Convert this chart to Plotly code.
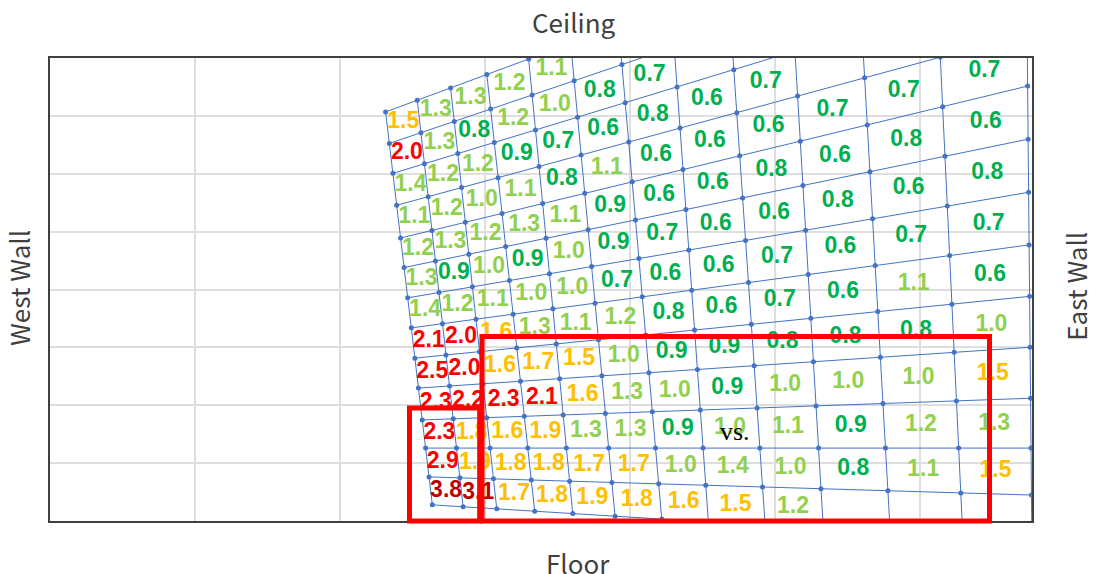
import plotly.graph_objects as go

# room grid: x in grid units (west wall = 0), y in grid units (floor = 0, ceiling = 8)
X_MAX = 6.772
Y_MAX = 8

# distorted measurement mesh, read off the picture
# column lines: x where each line meets the floor and the ceiling
COL_X_FLOOR = [2.65, 2.86, 3.09, 3.35, 3.61, 3.90, 4.22, 4.54, 4.93, 5.33, 5.79, 6.29, 6.77]
COL_X_CEILING = [2.27, 2.50, 2.74, 3.00, 3.30, 3.60, 3.94, 4.31, 4.71, 5.14, 5.61, 6.14, 6.74]
# row lines: height at x = 2.5 and at x = 6.75
ROW_Y_WEST = [0.30, 0.77, 1.26, 1.74, 2.29, 2.81, 3.34, 3.87, 4.41, 4.94, 5.53, 6.11, 6.66, 7.24]
ROW_Y_EAST = [-0.36, 0.45, 1.26, 2.12, 3.00, 3.88, 4.77, 5.68, 6.60, 7.52, 8.43, 9.35, 10.27, 11.18]

# cell values, bottom row first, west column first (None = no label)
ROW_0 = [3.8, 3.1, 1.7, 1.8, 1.9, 1.8, 1.6, 1.5, 1.2, None, None, None]
ROW_1 = [2.9, 1.9, 1.8, 1.8, 1.7, 1.7, 1.0, 1.4, 1.0, 0.8, 1.1, 1.5]
ROW_2 = [2.3, 1.8, 1.6, 1.9, 1.3, 1.3, 0.9, 1.0, 1.1, 0.9, 1.2, 1.3]
ROW_3 = [2.3, 2.2, 2.3, 2.1, 1.6, 1.3, 1.0, 0.9, 1.0, 1.0, 1.0, 1.5]
ROW_4 = [2.5, 2.0, 1.6, 1.7, 1.5, 1.0, 0.9, 0.9, 0.8, 0.8, 0.8, 1.0]
ROW_5 = [2.1, 2.0, 1.6, 1.3, 1.1, 1.2, 0.8, 0.6, 0.7, 0.6, 1.1, 0.6]
ROW_6 = [1.4, 1.2, 1.1, 1.0, 1.0, 0.7, 0.6, 0.6, 0.7, 0.6, 0.7, 0.7]
ROW_7 = [1.3, 0.9, 1.0, 0.9, 1.0, 0.9, 0.7, 0.6, 0.6, 0.8, 0.6, 0.8]
ROW_8 = [1.2, 1.3, 1.2, 1.3, 1.1, 0.9, 0.6, 0.6, 0.8, 0.6, 0.8, 0.6]
ROW_9 = [1.1, 1.2, 1.0, 1.1, 0.8, 1.1, 0.6, 0.6, 0.6, 0.7, 0.7, 0.7]
ROW_10 = [1.4, 1.2, 1.2, 0.9, 0.7, 0.6, 0.8, 0.6, 0.7, None, None, None]
ROW_11 = [2.0, 1.3, 0.8, 1.2, 1.0, 0.8, 0.7, None, None, None, None, None]
ROW_12 = [1.5, 1.3, 1.3, 1.2, 1.1, None, None, None, None, None, None, None]
VALUES = [ROW_0, ROW_1, ROW_2, ROW_3, ROW_4, ROW_5, ROW_6, ROW_7, ROW_8, ROW_9, ROW_10, ROW_11, ROW_12]

# colour classes: (lower bound, colour)
CLASSES = [(3.0, "#c00000"), (2.0, "#ff0000"), (1.5, "#ffc000"), (1.0, "#92d050"), (0.0, "#00b050")]

MESH_COLOR = "#4472c4"


def node(i, j):
    # intersection of column line i and row line j
    xb, xt = COL_X_FLOOR[i], COL_X_CEILING[i]
    k = (xt - xb) / Y_MAX
    ya, yb = ROW_Y_WEST[j], ROW_Y_EAST[j]
    m = (yb - ya) / (6.75 - 2.5)
    y = (ya + m * (xb - 2.5)) / (1 - m * k)
    return xb + k * y, y


n_cols = len(COL_X_FLOOR)
n_rows = len(ROW_Y_WEST)
nodes = [[node(i, j) for j in range(n_rows)] for i in range(n_cols)]

fig = go.Figure()

# mesh lines
lx, ly = [], []
for j in range(n_rows):
    for i in range(n_cols):
        lx.append(nodes[i][j][0])
        ly.append(nodes[i][j][1])
    lx.append(None)
    ly.append(None)
for i in range(n_cols):
    for j in range(n_rows):
        lx.append(nodes[i][j][0])
        ly.append(nodes[i][j][1])
    lx.append(None)
    ly.append(None)
fig.add_trace(go.Scatter(x=lx, y=ly, mode="lines", line=dict(color=MESH_COLOR, width=1),
                         hoverinfo="skip", showlegend=False))
fig.add_trace(go.Scatter(x=[p[0] for col in nodes for p in col],
                         y=[p[1] for col in nodes for p in col],
                         mode="markers", marker=dict(color=MESH_COLOR, size=5),
                         hoverinfo="skip", showlegend=False))

# value labels at cell centres, one trace per colour class
groups = {c: ([], [], []) for _, c in CLASSES}
for r, row in enumerate(VALUES):
    for c, v in enumerate(row):
        if v is None:
            continue
        pts = [nodes[c][r], nodes[c + 1][r], nodes[c][r + 1], nodes[c + 1][r + 1]]
        cx = sum(p[0] for p in pts) / 4
        cy = sum(p[1] for p in pts) / 4
        for low, colr in CLASSES:
            if v >= low:
                groups[colr][0].append(cx)
                groups[colr][1].append(cy)
                groups[colr][2].append(f"{v:.1f}")
                break
for colr, (gx, gy, gt) in groups.items():
    fig.add_trace(go.Scatter(x=gx, y=gy, text=gt, mode="text",
                             textfont=dict(family="Liberation Sans, Arial", size=23, color=colr, weight="bold"),
                             hoverinfo="skip", showlegend=False))

# red highlight boxes
for x0, x1, y1 in [(2.479, 2.963, 0.244), (2.979, 6.479, 0.3985)]:
    fig.add_shape(type="rect", xref="x", yref="paper", x0=x0, x1=x1, y0=0, y1=y1,
                  line=dict(color="#ff0000", width=5), layer="above")

fig.add_annotation(x=4.724, y=1.555, text="vs.", showarrow=False,
                   font=dict(family="Liberation Serif, Times New Roman", size=26, color="black"))

side_font = dict(family="Noto Sans CJK JP", size=26, color="#404040")
for x, y, label, angle in [(0.534, 1.078, "Ceiling", 0), (0.538, -0.089, "Floor", 0),
                           (-0.0326, 0.503, "West Wall", -90), (1.0448, 0.508, "East Wall", -90)]:
    fig.add_annotation(x=x, y=y, xref="paper", yref="paper", text=label, showarrow=False,
                       xanchor="center", yanchor="middle", textangle=angle, font=side_font)

axis_style = dict(showgrid=True, gridcolor="#dedede", gridwidth=2, zeroline=False,
                  showticklabels=False, ticks="", showline=True, mirror=True,
                  linecolor="#404040", linewidth=2, tick0=0, dtick=1)
fig.update_xaxes(range=[0, X_MAX], **axis_style)
fig.update_yaxes(range=[0, Y_MAX], **axis_style)

# page body adds an 8px margin, so the figure is 8px smaller each way
fig.update_layout(width=1089, height=566, margin=dict(l=42, r=65, t=50, b=53),
                  plot_bgcolor="white", paper_bgcolor="white", showlegend=False)

fig.write_html("out.html")
